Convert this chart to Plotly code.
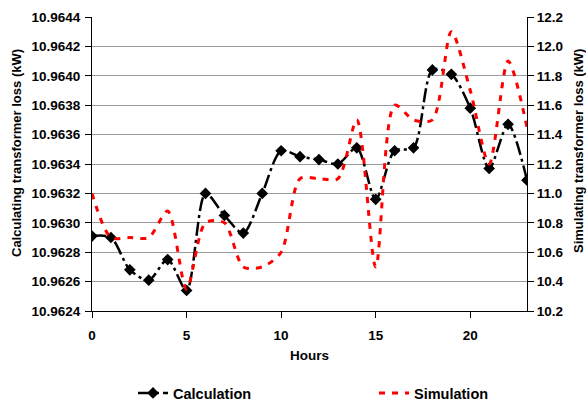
import plotly.graph_objects as go

hours = list(range(24))
calculation = [10.96291, 10.96290, 10.96268, 10.96261, 10.96275, 10.96254, 10.96320, 10.96305,
               10.96293, 10.96320, 10.96349, 10.96345, 10.96343, 10.96340, 10.96351, 10.96316,
               10.96349, 10.96351, 10.96404, 10.96401, 10.96378, 10.96337, 10.96367, 10.96329]
simulation = [11.0, 10.7, 10.7, 10.7, 10.88, 10.35, 10.8, 10.8,
              10.5, 10.5, 10.6, 11.1, 11.1, 11.1, 11.5, 10.5,
              11.6, 11.5, 11.5, 12.1, 11.7, 11.2, 11.9, 11.45]

left_ticks = [10.9624, 10.9626, 10.9628, 10.9630, 10.9632, 10.9634, 10.9636, 10.9638, 10.9640, 10.9642, 10.9644]
right_ticks = [10.2, 10.4, 10.6, 10.8, 11.0, 11.2, 11.4, 11.6, 11.8, 12.0, 12.2]
x_ticks = [0, 5, 10, 15, 20]

W, H = 586, 401
ML, MR, MT, MB = 92, 59, 17, 90
PW, PH = W - ML - MR, H - MT - MB
FS = 13.5
font = dict(family="Liberation Sans, Arial, sans-serif", size=FS, color="black")


def px(x):
    return (x - ML) / PW


def py(y):
    return (H - MB - y) / PH


fig = go.Figure()
fig.add_trace(go.Scatter(
    x=hours, y=calculation, name="<b>Calculation</b>", mode="lines+markers",
    line=dict(color="black", width=2.5, shape="spline", smoothing=0.8, dash="14px,4px,3px,4px"),
    marker=dict(symbol="diamond", size=9, color="black"),
    yaxis="y", legend="legend",
))
fig.add_trace(go.Scatter(
    x=hours, y=simulation, name="<b>Simulation</b>", mode="lines",
    line=dict(color="red", width=3, shape="spline", smoothing=0.8, dash="6px,7px"),
    yaxis="y2", legend="legend2",
))

legend_common = dict(yref="container", xref="container", y=1 - 393 / H, yanchor="middle",
                     xanchor="left", font=dict(size=14.5), bgcolor="rgba(0,0,0,0)")

axis_common = dict(zeroline=False, showline=True, linecolor="black", linewidth=1,
                   ticks="outside", ticklen=6, tickcolor="black", automargin=False)

fig.update_layout(
    width=W, height=H,
    margin=dict(l=ML, r=MR, t=MT, b=MB, autoexpand=False),
    paper_bgcolor="white", plot_bgcolor="white",
    font=font,
    showlegend=True,
    legend=dict(x=133 / W, **legend_common),
    legend2=dict(x=374 / W, **legend_common),
    xaxis=dict(range=[0, 23], tickvals=x_ticks, ticktext=[f"<b>{v}</b>" for v in x_ticks],
               showgrid=False, ticklabelstandoff=6, **axis_common),
    yaxis=dict(range=[10.9624, 10.9644], tickvals=left_ticks,
               ticktext=[f"<b>{v:.4f}</b>" for v in left_ticks],
               showgrid=True, gridcolor="#9a9a9a", gridwidth=1, ticklabelstandoff=2, **axis_common),
    yaxis2=dict(range=[10.2, 12.2], tickvals=right_ticks,
                ticktext=[f"<b>{v:.1f}</b>" for v in right_ticks],
                overlaying="y", side="right", showgrid=False, **axis_common),
    annotations=[
        dict(text="<b>Hours</b>", xref="paper", yref="paper", x=px(309), y=py(355),
             showarrow=False, xanchor="center", yanchor="middle", font=dict(size=FS)),
        dict(text="<b>Calculating transformer loss (kW)</b>", xref="paper", yref="paper",
             x=px(16), y=py(153), textangle=-90, showarrow=False,
             xanchor="center", yanchor="middle", font=dict(size=13)),
        dict(text="<b>Simulating transformer loss (kW)</b>", xref="paper", yref="paper",
             x=px(579), y=py(151), textangle=-90, showarrow=False,
             xanchor="center", yanchor="middle", font=dict(size=13)),
    ],
)

fig.write_html("out.html", config={"displayModeBar": False})
with open("out.html", encoding="utf-8") as f:
    html = f.read()
html = html.replace("<head>", "<head><style>html,body{margin:0;padding:0;overflow:hidden;}</style>", 1)
with open("out.html", "w", encoding="utf-8") as f:
    f.write(html)
